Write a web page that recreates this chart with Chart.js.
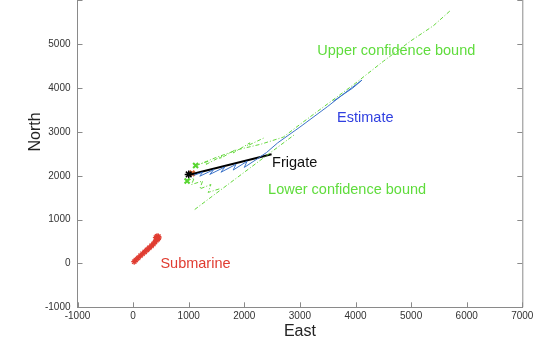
<!DOCTYPE html>
<html>
<head>
<meta charset="utf-8">
<script src="https://cdn.jsdelivr.net/npm/chart.js@4/dist/chart.umd.min.js"></script>
<style>
  html, body { margin: 0; padding: 0; background: #fff; overflow: hidden; }
  #wrap { position: absolute; left: 0; top: -50px; width: 533px; height: 390px; }
</style>
</head>
<body>
<div id="wrap"><canvas id="track"></canvas></div>
<script>
// tick values
const eastTicks = [-1000, 0, 1000, 2000, 3000, 4000, 5000, 6000, 7000];
const northTicks = [-1000, 0, 1000, 2000, 3000, 4000, 5000, 6000, 7000];

// submarine track
const subEast  = [20, 50, 90, 130, 170, 210, 250, 290, 330, 365, 395, 420, 445, 460, 455, 430, 410, 430];
const subNorth = [40, 80, 125, 175, 220, 265, 310, 355, 400, 445, 490, 530, 555, 585, 615, 620, 590, 560];

// frigate track
const frigEast  = [1030, 2490];
const frigNorth = [2030, 2490];

// estimate
const estEast  = [1090, 1250, 1200, 1450, 1380, 1650, 1580, 1850, 1800, 2050, 2000, 2250, 2400, 2600, 3000, 3500, 3800, 4117, 3950, 3600];
const estNorth = [2010, 2080, 1990, 2140, 2030, 2200, 2080, 2260, 2130, 2330, 2190, 2400, 2530, 2750, 3110, 3580, 3880, 4182, 4000, 3700];

// confidence bounds
const upEast  = [1130, 1500, 1900, 2300, 2700, 3000, 3500, 4000, 4500, 5000, 5400, 5700];
const upNorth = [2230, 2420, 2600, 2720, 2880, 3170, 3640, 4110, 4610, 5080, 5420, 5760];
const upBitsEast  = [1130, 1350, 1300, 1600, 1550, 1850, 1800, 2100, 2050, 2350];
const upBitsNorth = [2235, 2330, 2250, 2450, 2380, 2600, 2520, 2750, 2680, 2860];
const lowEast  = [1108, 1400, 1700, 2000, 2300, 2600, 2900];
const lowNorth = [1230, 1510, 1795, 2080, 2365, 2650, 2935];
const lowBitsEast  = [970, 1100, 1050, 1250, 1200, 1400, 1350, 1550];
const lowBitsNorth = [1880, 1950, 1800, 1880, 1700, 1800, 1620, 1700];

// start markers
const greenXEast = [1124, 971];
const greenXNorth = [2235, 1880];
const orangeXEast = [1061];
const orangeXNorth = [2054];
const blackStarEast = [1000];
const blackStarNorth = [2030];

// text labels [text, east, north, colour]
const labels = [
    ['Upper confidence bound', 3313, 4847, '#5fdc3c'],
    ['Estimate', 3669, 3307, '#2f3fe0'],
    ['Frigate', 2500, 2281, '#111111'],
    ['Lower confidence bound', 2428, 1676, '#5fdc3c'],
    ['Submarine', 491, -16, '#e03c31']
];

function pts(xs, ys) {
    return xs.map((x, i) => ({x: x, y: ys[i]}));
}

const green = 'rgba(100, 215, 60, 1)';

const ctx = document.getElementById('track').getContext('2d');

const inwardTicks = {
    id: 'inwardTicks',
    afterDraw(chart) {
        const {ctx, chartArea} = chart;
        const xs = chart.scales.x, ys = chart.scales.y;
        ctx.save();
        ctx.strokeStyle = '#8a8a8a';
        ctx.lineWidth = 1;
        ctx.beginPath();
        // right and top frame
        ctx.moveTo(chartArea.right + 0.5, chartArea.top);
        ctx.lineTo(chartArea.right + 0.5, chartArea.bottom);
        ctx.moveTo(chartArea.left, chartArea.top + 0.5);
        ctx.lineTo(chartArea.right, chartArea.top + 0.5);
        eastTicks.forEach(v => {
            const p = Math.round(xs.getPixelForValue(v)) + 0.5;
            ctx.moveTo(p, chartArea.bottom);
            ctx.lineTo(p, chartArea.bottom - 5);
        });
        northTicks.forEach(v => {
            const p = Math.round(ys.getPixelForValue(v)) + 0.5;
            ctx.moveTo(chartArea.left, p);
            ctx.lineTo(chartArea.left + 5, p);
            ctx.moveTo(chartArea.right, p);
            ctx.lineTo(chartArea.right - 5, p);
        });
        ctx.stroke();
        ctx.restore();
    }
};

const textLabels = {
    id: 'textLabels',
    afterDatasetsDraw(chart) {
        const {ctx} = chart;
        const xs = chart.scales.x, ys = chart.scales.y;
        ctx.save();
        ctx.font = '14.5px "Liberation Sans", Arial, sans-serif';
        ctx.textAlign = 'left';
        ctx.textBaseline = 'middle';
        labels.forEach(l => {
            ctx.fillStyle = l[3];
            ctx.fillText(l[0], xs.getPixelForValue(l[1]), ys.getPixelForValue(l[2]));
        });
        ctx.restore();
    }
};

const dashDot = [4, 2, 1, 2];

const trackChart = new Chart(ctx, {
    type: 'scatter',
    data: {
        datasets: [
            {
                label: 'Lower bits',
                data: pts(lowBitsEast, lowBitsNorth),
                showLine: true,
                borderColor: green,
                borderWidth: 1,
                borderDash: dashDot,
                pointRadius: 0
            },
            {
                label: 'Upper bits',
                data: pts(upBitsEast, upBitsNorth),
                showLine: true,
                borderColor: green,
                borderWidth: 1,
                borderDash: dashDot,
                pointRadius: 0
            },
            {
                label: 'Lower confidence bound',
                data: pts(lowEast, lowNorth),
                showLine: true,
                borderColor: green,
                borderWidth: 1,
                borderDash: dashDot,
                pointRadius: 0
            },
            {
                label: 'Upper confidence bound',
                data: pts(upEast, upNorth),
                showLine: true,
                borderColor: green,
                borderWidth: 1,
                borderDash: dashDot,
                pointRadius: 0
            },
            {
                label: 'Estimate',
                data: pts(estEast, estNorth),
                showLine: true,
                borderColor: 'rgb(60, 115, 200)',
                borderWidth: 1,
                pointRadius: 0
            },
            {
                label: 'Frigate',
                data: pts(frigEast, frigNorth),
                showLine: true,
                borderColor: '#000',
                borderWidth: 2,
                pointRadius: 0
            },
            {
                label: 'Submarine',
                data: pts(subEast, subNorth),
                showLine: true,
                borderColor: '#e03c31',
                backgroundColor: '#e03c31',
                borderWidth: 1.5,
                pointStyle: 'star',
                pointRadius: 3,
                pointBorderWidth: 1.2
            },
            {
                label: 'Green x',
                data: pts(greenXEast, greenXNorth),
                showLine: false,
                borderColor: '#55d52e',
                pointStyle: 'crossRot',
                pointRadius: 3.5,
                pointBorderWidth: 2
            },
            {
                label: 'Black star',
                data: pts(blackStarEast, blackStarNorth),
                showLine: false,
                borderColor: '#000',
                pointStyle: 'star',
                pointRadius: 4,
                pointBorderWidth: 1.5
            },
            {
                label: 'Orange x',
                data: pts(orangeXEast, orangeXNorth),
                showLine: false,
                borderColor: '#d9622b',
                pointStyle: 'crossRot',
                pointRadius: 3.5,
                pointBorderWidth: 2.5
            }
        ]
    },
    options: {
        responsive: true,
        maintainAspectRatio: false,
        animation: false,
        events: [],
        layout: {
            padding: {top: 4, right: 10.7, left: 0, bottom: 0}
        },
        plugins: {
            legend: { display: false },
            tooltip: { enabled: false }
        },
        scales: {
            x: {
                type: 'linear',
                min: -1000,
                max: 7000,
                afterBuildTicks: scale => { scale.ticks = eastTicks.map(v => ({value: v})); },
                afterFit: scale => {
                    scale.height = 32.7;
                    scale.paddingLeft = 0;
                    scale.paddingRight = 0;
                },
                grid: { drawOnChartArea: false, drawTicks: false },
                border: { display: true, color: '#8a8a8a', width: 1 },
                ticks: {
                    color: '#333',
                    padding: 3,
                    maxRotation: 0,
                    autoSkip: false,
                    callback: v => String(v),
                    font: { family: '"Liberation Sans", Arial, sans-serif', size: 10 }
                },
                title: {
                    display: true,
                    text: 'East',
                    color: '#222',
                    padding: 0,
                    font: { family: '"Liberation Sans", Arial, sans-serif', size: 16, lineHeight: 1 }
                }
            },
            y: {
                type: 'linear',
                min: -1000,
                max: 7000,
                afterBuildTicks: scale => { scale.ticks = northTicks.map(v => ({value: v})); },
                afterFit: scale => {
                    scale.width = 77.5;
                    scale.paddingTop = 0;
                    scale.paddingBottom = 0;
                },
                grid: { drawOnChartArea: false, drawTicks: false },
                border: { display: true, color: '#8a8a8a', width: 1 },
                ticks: {
                    color: '#333',
                    padding: 7,
                    autoSkip: false,
                    callback: v => (v > 5000 ? '' : String(v)),
                    font: { family: '"Liberation Sans", Arial, sans-serif', size: 10 }
                },
                title: {
                    display: true,
                    text: 'North',
                    color: '#222',
                    padding: { top: 28, bottom: 0 },
                    font: { family: '"Liberation Sans", Arial, sans-serif', size: 16, lineHeight: 1 }
                }
            }
        }
    },
    plugins: [inwardTicks, textLabels]
});
</script>
</body>
</html>
